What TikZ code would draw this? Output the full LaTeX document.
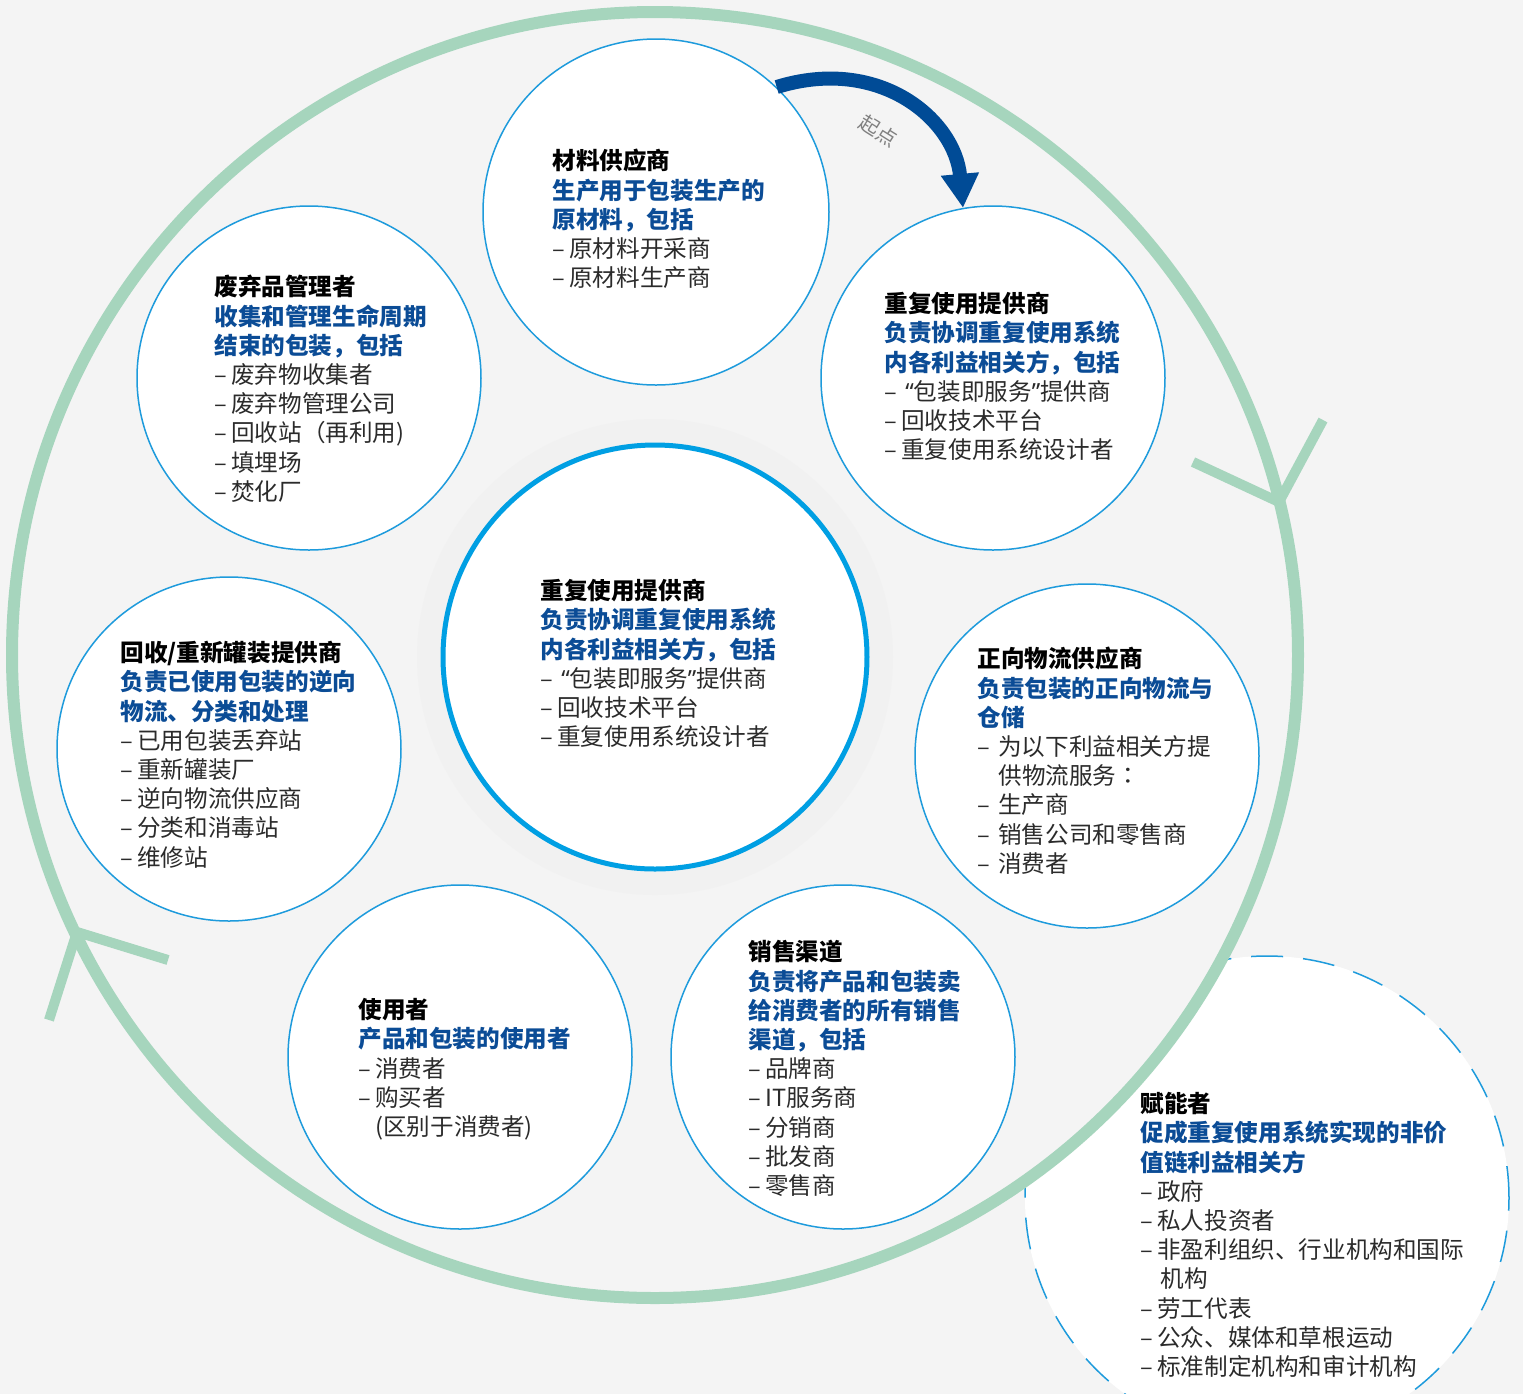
\documentclass[tikz,border=0pt]{standalone}
\usepackage{fontspec}
\setmainfont{Noto Sans CJK SC}
\newfontfamily\latq{Noto Sans}
\newfontfamily\tcf{Noto Sans CJK TC}
\usetikzlibrary{arrows.meta}
\definecolor{bg}{HTML}{F4F4F4}
\definecolor{halo}{HTML}{F1F1F1}
\definecolor{grn}{HTML}{A6D5BD}
\definecolor{cblue}{HTML}{1E9BDC}
\definecolor{cenblue}{HTML}{009FE3}
\definecolor{dblue}{HTML}{0B4C96}
\definecolor{arrblue}{HTML}{004B96}
\definecolor{txt}{HTML}{2B2B2B}
\newcommand{\hd}[1]{{\bfseries\color{black}#1}}
\newcommand{\bl}[1]{{\bfseries\color{dblue}#1}}
\newcommand{\li}[1]{\makebox[8.5pt][l]{–}#1}
\newcommand{\lii}[1]{\makebox[10.5pt][l]{–}#1}
\newcommand{\oq}{{\latq “}}
\newcommand{\cq}{{\latq ”}}
\begin{document}
\begin{tikzpicture}[x=0.5pt,y=-0.5pt,
  smallc/.style={circle, draw=cblue, line width=0.75pt, fill=white, minimum size=172pt, inner sep=0pt},
  txtblock/.style={anchor=north west, align=left, inner sep=0pt, text=txt, font=\fontsize{11.8pt}{14.6pt}\selectfont},
  chev/.style={draw=grn, line width=5pt}]
\useasboundingbox (0,0) rectangle (1523,1394);
\clip (0,0) rectangle (1523,1394);
\fill[bg] (0,0) rectangle (1523,1394);
% enabler circle
\node[circle, draw=cblue, dash pattern=on 16pt off 10pt, line width=0.75pt, fill=white, minimum size=242pt, inner sep=0pt] (enab) at (1267,1198) {};
% big ring
\node[circle, draw=grn, line width=6pt, fill=bg, minimum size=643pt, inner sep=0pt] (ring) at (655,655) {};
% halo
\node[circle, fill=halo, minimum size=238pt, inner sep=0pt] (halo) at (655,657) {};
% small circles
\node[smallc, minimum size=173pt] (mat) at (656,212) {};
\node[smallc] (reuse) at (993,378) {};
\node[smallc] (fwd) at (1087,756) {};
\node[smallc] (sales) at (843,1057) {};
\node[smallc] (user) at (460,1057) {};
\node[smallc] (rev) at (229,749) {};
\node[smallc] (waste) at (309,378) {};
% centre
\node[circle, draw=cenblue, line width=2.5pt, fill=white, minimum size=212pt, inner sep=0pt] (cen) at (655,657) {};
% chevrons
\coordinate (rv) at (1279,502);
\coordinate (ra) at (1193,462);
\coordinate (rb) at (1323,420);
\draw[chev] (ra) -- (rv);
\draw[chev] (rb) -- (rv);
\coordinate (lv) at (77,932);
\coordinate (la) at (49,1020);
\coordinate (lb) at (168,960);
\draw[chev] (la) -- (lv);
\draw[chev] (lb) -- (lv);
% start arrow
\draw[arrblue, line width=7pt, -{Triangle[width=18pt,length=17pt]}] (mat.46) .. controls (880,55) and (955,120) .. (reuse.100);
\node[rotate=-32, text=gray, font=\fontsize{10pt}{10pt}\selectfont, inner sep=0pt] (startlbl) at (878,131) {起点};
% texts
\node[txtblock] (tmat) at (552,149) {\hd{材料供应商}\\ \bl{生产用于包装生产的}\\ \bl{原材料，包括}\\ \li{原材料开采商}\\ \li{原材料生产商}};
\node[txtblock] (treuse) at (884,292) {\hd{重复使用提供商}\\ \bl{负责协调重复使用系统}\\ \bl{内各利益相关方，包括}\\ \li{\,\oq 包装即服务\cq 提供商}\\ \li{回收技术平台}\\ \li{重复使用系统设计者}};
\node[txtblock] (tcen) at (540,579) {\hd{重复使用提供商}\\ \bl{负责协调重复使用系统}\\ \bl{内各利益相关方，包括}\\ \li{\,\oq 包装即服务\cq 提供商}\\ \li{回收技术平台}\\ \li{重复使用系统设计者}};
\node[txtblock] (tfwd) at (977,647) {\hd{正向物流供应商}\\ \bl{负责包装的正向物流与}\\ \bl{仓储}\\ \lii{为以下利益相关方提}\\ \hspace*{10.5pt}供物流服务{\tcf ：}\\ \lii{生产商}\\ \lii{销售公司和零售商}\\ \lii{消费者}};
\node[txtblock] (tsales) at (748,940) {\hd{销售渠道}\\ \bl{负责将产品和包装卖}\\ \bl{给消费者的所有销售}\\ \bl{渠道，包括}\\ \li{品牌商}\\ \li{IT服务商}\\ \li{分销商}\\ \li{批发商}\\ \li{零售商}};
\node[txtblock] (tuser) at (358,998) {\hd{使用者}\\ \bl{产品和包装的使用者}\\ \li{消费者}\\ \li{购买者}\\ \hspace*{8.5pt}(区别于消费者)};
\node[txtblock] (trev) at (120,641) {\hd{回收/重新罐装提供商}\\ \bl{负责已使用包装的逆向}\\ \bl{物流、分类和处理}\\ \li{已用包装丢弃站}\\ \li{重新罐装厂}\\ \li{逆向物流供应商}\\ \li{分类和消毒站}\\ \li{维修站}};
\node[txtblock] (twaste) at (214,275) {\hd{废弃品管理者}\\ \bl{收集和管理生命周期}\\ \bl{结束的包装，包括}\\ \li{废弃物收集者}\\ \li{废弃物管理公司}\\ \li{回收站（再利用)}\\ \li{填埋场}\\ \li{焚化厂}};
\node[txtblock] (tenab) at (1140,1092) {\hd{赋能者}\\ \bl{促成重复使用系统实现的非价}\\ \bl{值链利益相关方}\\ \li{政府}\\ \li{私人投资者}\\ \li{非盈利组织、行业机构和国际}\\ \hspace*{10pt}机构\\ \li{劳工代表}\\ \li{公众、媒体和草根运动}\\ \li{标准制定机构和审计机构}};
\end{tikzpicture}
\end{document}
